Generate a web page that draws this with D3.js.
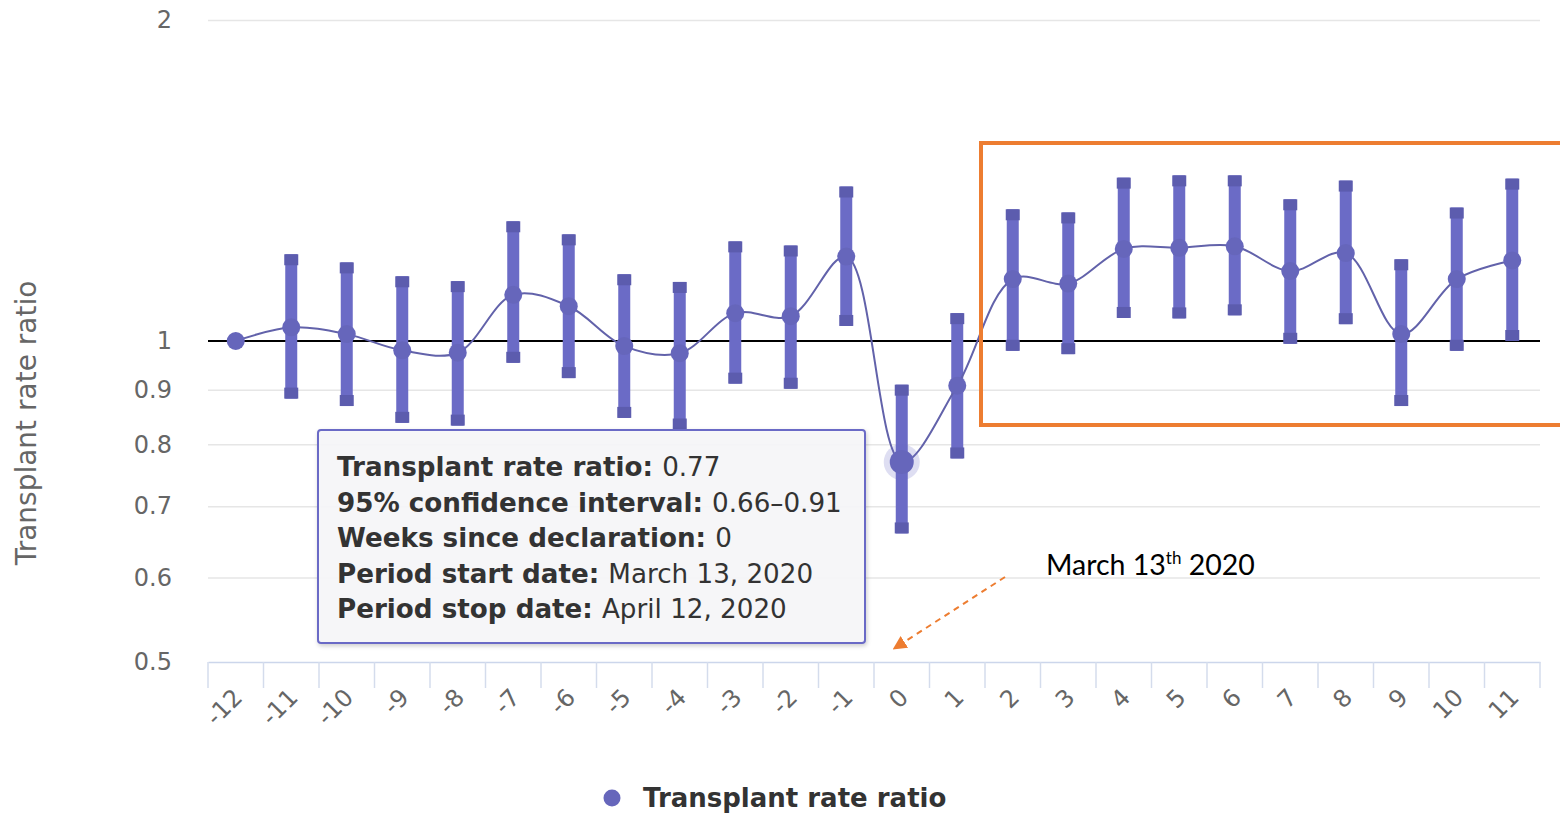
<!DOCTYPE html>
<html>
<head>
<meta charset="utf-8">
<script src="https://cdn.jsdelivr.net/npm/d3@7"></script>
<style>
  html, body { margin: 0; padding: 0; background: #ffffff; }
  svg { display: block; }
</style>
</head>
<body>
<svg id="chart" width="1560" height="813"></svg>
<script>
// ---- Data ----
const categories = ["-12","-11","-10","-9","-8","-7","-6","-5","-4","-3","-2","-1","0","1","2","3","4","5","6","7","8","9","10","11"];
const ratio  = [1.00, 1.03, 1.015, 0.98, 0.975, 1.105, 1.078, 0.989, 0.974, 1.062, 1.055, 1.20, 0.77, 0.908, 1.143, 1.132, 1.22, 1.223, 1.227, 1.163, 1.209, 1.015, 1.143, 1.19];
const ciLow  = [null, 0.883, 0.869, 0.838, 0.833, 0.954, 0.923, 0.847, 0.826, 0.912, 0.902, 1.033, 0.66, 0.776, 0.979, 0.972, 1.051, 1.05, 1.057, 0.994, 1.037, 0.869, 0.979, 1.0];
const ciHigh = [null, 1.206, 1.185, 1.15, 1.138, 1.295, 1.259, 1.155, 1.136, 1.24, 1.229, 1.396, 0.91, 1.062, 1.329, 1.32, 1.423, 1.43, 1.43, 1.358, 1.414, 1.193, 1.334, 1.42];
const yTickValues = [0.5, 0.6, 0.7, 0.8, 0.9, 1, 2];
const seriesName = "Transplant rate ratio";
const hoverIndex = 12;
const tooltipLines = [
  ["Transplant rate ratio: ", "0.77"],
  ["95% confidence interval: ", "0.66\u20130.91"],
  ["Weeks since declaration: ", "0"],
  ["Period start date: ", "March 13, 2020"],
  ["Period stop date: ", "April 12, 2020"]
];

const data = categories.map((c, i) => ({ c, v: ratio[i], lo: ciLow[i], hi: ciHigh[i], i }));

const svg = d3.select("#chart");
const font = "'DejaVu Sans', Verdana, sans-serif";
const color = "#6b6bc6";
const capColor = "#5c5cae";
const lineColor = "#6262aa";

const x = d3.scaleBand().domain(categories).range([208, 1540]).paddingInner(0).paddingOuter(0);
const y = d3.scaleLog().domain([0.5, 2]).range([662, 20]);
const cx = c => x(c) + x.bandwidth() / 2;

// Gridlines
const grid = svg.append("g").attr("transform", "translate(208,0)")
  .call(d3.axisLeft(y).tickValues(yTickValues.filter(v => v !== 1 && v !== 0.5)).tickSize(-1332).tickFormat(""));
grid.select(".domain").remove();
grid.selectAll("line").attr("stroke", "#e6e6e6").attr("stroke-width", 1.5);

// Y tick labels
const yAxis = svg.append("g").attr("transform", "translate(172,0)")
  .call(d3.axisLeft(y).tickValues(yTickValues).tickSize(0).tickPadding(0).tickFormat(d3.format("~g")));
yAxis.select(".domain").remove();
yAxis.selectAll("text").attr("font-family", font).attr("font-size", 24).attr("fill", "#666666").attr("dy", "0.32em");

// Y title
svg.append("text")
  .attr("transform", `translate(36,423) rotate(-90)`)
  .attr("text-anchor", "middle")
  .attr("font-family", font).attr("font-size", 28).attr("fill", "#666666")
  .text(seriesName);

// X axis
const xAxis = svg.append("g").attr("transform", "translate(0,662)")
  .call(d3.axisBottom(x).tickSize(0).tickFormat(d => d));
xAxis.select(".domain").attr("stroke", "#ccd6eb").attr("stroke-width", 1.5);
xAxis.selectAll(".tick line").remove();
xAxis.selectAll(".tick text")
  .attr("font-family", font).attr("font-size", 24).attr("fill", "#666666")
  .attr("text-anchor", "end")
  .attr("transform", "translate(2,31) rotate(-45)")
  .attr("y", 0).attr("dy", "0.35em");
// tick marks between categories
svg.append("g").selectAll("line")
  .data(categories.concat(["__end"]))
  .join("line")
  .attr("x1", (d, i) => 208 + i * x.bandwidth())
  .attr("x2", (d, i) => 208 + i * x.bandwidth())
  .attr("y1", 662).attr("y2", 688)
  .attr("stroke", "#d4dcec").attr("stroke-width", 1.5);

// Reference line at 1
svg.append("line")
  .attr("x1", 208).attr("x2", 1540).attr("y1", y(1)).attr("y2", y(1))
  .attr("stroke", "#000000").attr("stroke-width", 2);

// Error bars
const eb = svg.append("g").selectAll("g").data(data.filter(d => d.lo != null)).join("g");
eb.append("rect")
  .attr("x", d => cx(d.c) - 6).attr("width", 12)
  .attr("y", d => y(d.hi)).attr("height", d => y(d.lo) - y(d.hi))
  .attr("fill", color);
eb.append("rect")
  .attr("x", d => cx(d.c) - 7).attr("width", 14)
  .attr("y", d => y(d.hi)).attr("height", 11)
  .attr("fill", capColor);
eb.append("rect")
  .attr("x", d => cx(d.c) - 7).attr("width", 14)
  .attr("y", d => y(d.lo) - 11).attr("height", 11)
  .attr("fill", capColor);

// Spline
svg.append("path")
  .datum(data)
  .attr("fill", "none")
  .attr("stroke", lineColor).attr("stroke-width", 2)
  .attr("d", d3.line().x(d => cx(d.c)).y(d => y(d.v)).curve(d3.curveCatmullRom.alpha(0.5)));

// Halo on hovered point
const hp = data[hoverIndex];
svg.append("circle").attr("cx", cx(hp.c)).attr("cy", y(hp.v)).attr("r", 18)
  .attr("fill", color).attr("opacity", 0.22);

// Markers
svg.append("g").selectAll("circle").data(data).join("circle")
  .attr("cx", d => cx(d.c)).attr("cy", d => y(d.v))
  .attr("r", d => d.i === hoverIndex ? 12 : 9)
  .attr("fill", "#6666bb");

// Orange highlight rectangle
svg.append("rect")
  .attr("x", 981).attr("y", 143).attr("width", 600).attr("height", 282)
  .attr("fill", "none").attr("stroke", "#ed7d31").attr("stroke-width", 4);

// Orange dashed arrow
const defs = svg.append("defs");
defs.append("marker").attr("id", "arrow").attr("viewBox", "0 0 10 10")
  .attr("refX", 8).attr("refY", 5).attr("markerWidth", 7).attr("markerHeight", 7)
  .attr("orient", "auto")
  .append("path").attr("d", "M0,0 L10,5 L0,10 z").attr("fill", "#ed7d31");
defs.append("filter").attr("id", "shadow").attr("x", "-5%").attr("y", "-5%").attr("width", "115%").attr("height", "120%")
  .append("feDropShadow").attr("dx", 1).attr("dy", 2).attr("stdDeviation", 2).attr("flood-color", "#000").attr("flood-opacity", 0.2);

svg.append("line")
  .attr("x1", 1005).attr("y1", 577).attr("x2", 895).attr("y2", 648)
  .attr("stroke", "#ed7d31").attr("stroke-width", 2).attr("stroke-dasharray", "6,5")
  .attr("marker-end", "url(#arrow)");

// Annotation text
const ann = svg.append("text").attr("x", 1046).attr("y", 575)
  .attr("font-family", "Lato, 'Open Sans', sans-serif").attr("font-size", 28.5).attr("fill", "#000");
ann.append("tspan").text("March 13");
ann.append("tspan").attr("font-size", 17).attr("dy", -11).text("th");
ann.append("tspan").attr("dy", 11).text(" 2020");

// Tooltip
const tt = svg.append("g");
tt.append("rect")
  .attr("x", 318).attr("y", 430).attr("width", 547).attr("height", 213).attr("rx", 3)
  .attr("fill", "rgba(247,247,250,0.92)").attr("stroke", color).attr("stroke-width", 2)
  .attr("filter", "url(#shadow)");
tooltipLines.forEach((ln, k) => {
  const t = tt.append("text").attr("x", 337).attr("y", 476 + k * 35.6)
    .attr("font-family", font).attr("font-size", 26.2).attr("fill", "#333333");
  t.append("tspan").attr("font-weight", "bold").text(ln[0]);
  t.append("tspan").text(ln[1]);
});

// Legend
svg.append("circle").attr("cx", 612).attr("cy", 798).attr("r", 8.5).attr("fill", "#6666bb");
svg.append("text").attr("x", 643).attr("y", 807)
  .attr("font-family", font).attr("font-size", 26).attr("font-weight", "bold").attr("fill", "#333333")
  .text(seriesName);
</script>
</body>
</html>
